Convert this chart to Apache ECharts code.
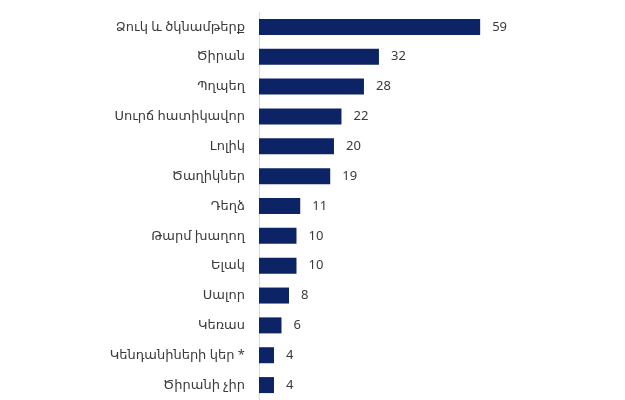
<!DOCTYPE html>
<html>
<head>
<meta charset="utf-8">
<script src="https://cdn.jsdelivr.net/npm/echarts@6/dist/echarts.min.js"></script>
<style>
  html, body { margin: 0; padding: 0; background: #fff; }
  #chart { width: 625px; height: 400px; }
</style>
</head>
<body>
<div id="chart"></div>
<script>
const categories = [
  'Ձուկ և ծկնամթերք',
  'Ծիրան',
  'Պղպեղ',
  'Սուրճ հատիկավոր',
  'Լոլիկ',
  'Ծաղիկներ',
  'Դեղձ',
  'Թարմ խաղող',
  'Ելակ',
  'Սալոր',
  'Կեռաս',
  'Կենդանիների կեր *',
  'Ծիրանի չիր'
]
const values = [59, 32, 28, 22, 20, 19, 11, 10, 10, 8, 6, 4, 4]

const font = "'Noto Sans', 'DejaVu Sans', sans-serif"

const chart = echarts.init(document.getElementById('chart'))
chart.setOption({
  backgroundColor: '#fff',
  animation: false,
  grid: {
    left: 259,
    right: 68,
    top: 12,
    bottom: -2
  },
  xAxis: {
    type: 'value',
    min: 0,
    max: 79.5,
    show: false
  },
  yAxis: {
    type: 'category',
    inverse: true,
    data: categories,
    axisLine: { lineStyle: { color: '#dcdcdc', width: 1 } },
    axisTick: { show: false },
    axisLabel: {
      margin: 14,
      color: '#3a3a3a',
      fontSize: 13,
      fontFamily: font
    }
  },
  series: [{
    type: 'bar',
    data: values,
    barWidth: 16,
    itemStyle: { color: '#0c2366' },
    label: {
      show: true,
      position: 'right',
      distance: 12,
      color: '#3a3a3a',
      fontSize: 13,
      fontFamily: font
    }
  }]
})
</script>
</body>
</html>
